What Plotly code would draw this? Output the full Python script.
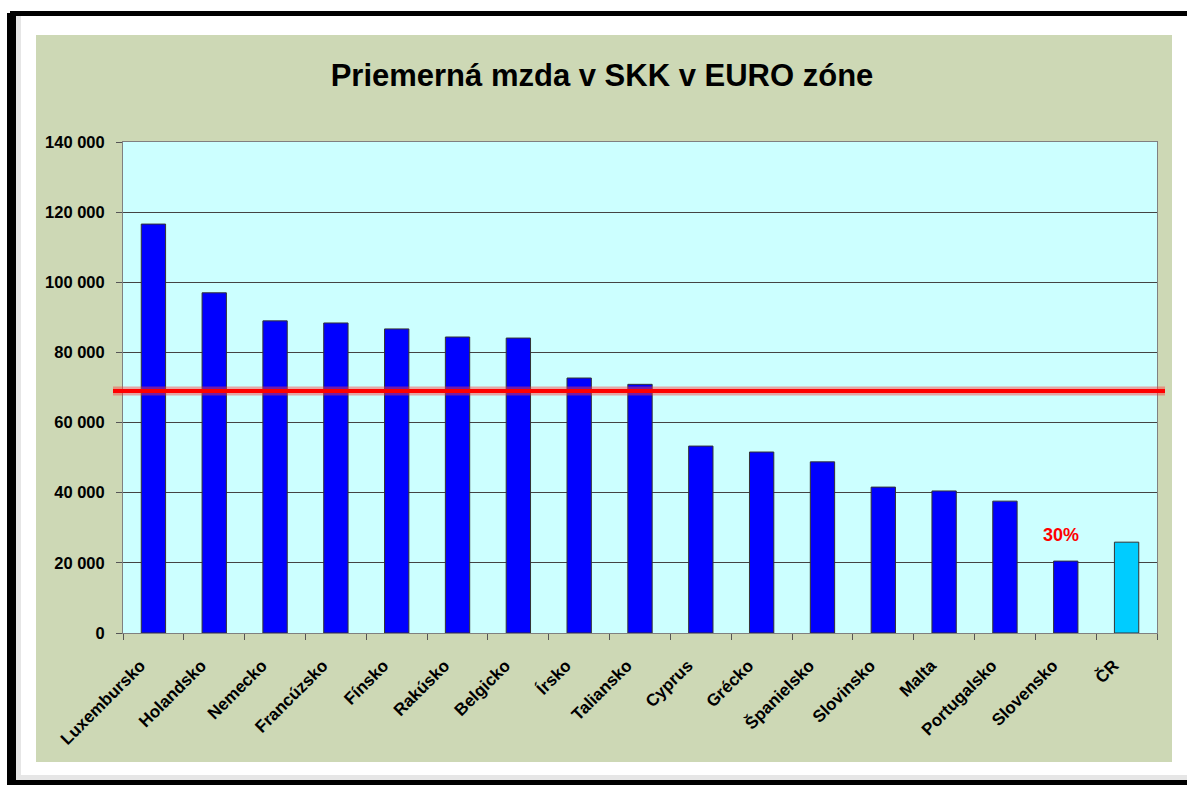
import plotly.graph_objects as go

countries = ["Luxembursko", "Holandsko", "Nemecko", "Francúzsko", "Fínsko", "Rakúsko",
             "Belgicko", "Írsko", "Taliansko", "Cyprus", "Grécko", "Španielsko",
             "Slovinsko", "Malta", "Portugalsko", "Slovensko", "ČR"]
wages = [116600, 97000, 89000, 88400, 86700, 84400, 84100, 72700, 70900,
         53300, 51600, 48800, 41600, 40500, 37600, 20500, 25900]
bar_colors = ["#0000FF"] * 16 + ["#00CCFF"]
average_wage = 69000
y_ticks = [0, 20000, 40000, 60000, 80000, 100000, 120000, 140000]
y_tick_text = ["0", "20 000", "40 000", "60 000", "80 000", "100 000", "120 000", "140 000"]
title_text = "Priemerná mzda v SKK v EURO zóne"
note_country = "Slovensko"
note_text = "30%"

W, H = 1187, 785
ML, MR, MT, MB = 123, 30, 142, 152
PW, PH = W - ML - MR, H - MT - MB


def px(x):
    return (x - ML) / PW


def py(y):
    return (H - MB - y) / PH


fig = go.Figure()
fig.add_trace(go.Bar(
    x=countries, y=wages,
    marker=dict(color=bar_colors, line=dict(color="#333333", width=1)),
    hoverinfo="x+y",
))

shapes = [
    # green panel
    dict(type="rect", xref="paper", yref="paper", x0=px(36), x1=px(1172), y0=py(762), y1=py(35),
         fillcolor="#CDD8B5", line=dict(width=0), layer="below"),
    # plot area background
    dict(type="rect", xref="paper", yref="paper", x0=0, x1=1, y0=0, y1=1,
         fillcolor="#CCFFFF", line=dict(width=0), layer="below"),
    # soft shadow inside the frame
    dict(type="rect", xref="paper", yref="paper", x0=px(16), x1=px(21), y0=py(780), y1=py(16),
         fillcolor="#E6E6E6", line=dict(width=0), layer="below"),
    dict(type="rect", xref="paper", yref="paper", x0=px(16), x1=px(1190), y0=py(780), y1=py(775),
         fillcolor="#E6E6E6", line=dict(width=0), layer="below"),
    # black frame
    dict(type="rect", xref="paper", yref="paper", x0=px(7), x1=px(16), y0=py(790), y1=py(13),
         fillcolor="black", line=dict(width=0), layer="below"),
    dict(type="rect", xref="paper", yref="paper", x0=px(10), x1=px(1190), y0=py(16), y1=py(11),
         fillcolor="black", line=dict(width=0), layer="below"),
    dict(type="rect", xref="paper", yref="paper", x0=px(7), x1=px(1190), y0=py(790), y1=py(780),
         fillcolor="black", line=dict(width=0), layer="below"),
    # average line (glow + core)
    dict(type="line", xref="paper", yref="y", x0=px(113), x1=px(1165), y0=average_wage, y1=average_wage,
         line=dict(color="rgba(255,60,60,0.45)", width=9), layer="above"),
    dict(type="line", xref="paper", yref="y", x0=px(113), x1=px(1165), y0=average_wage, y1=average_wage,
         line=dict(color="#FF0000", width=4), layer="above"),
]

fig.update_layout(
    width=W, height=H,
    margin=dict(l=ML, r=MR, t=MT, b=MB, pad=0),
    paper_bgcolor="white",
    plot_bgcolor="#CCFFFF",
    showlegend=False,
    bargap=0.6,
    shapes=shapes,
    title=dict(text=title_text, x=602 / W, xref="container", xanchor="center",
               y=1 - 75 / H, yref="container", yanchor="middle",
               font=dict(family="Liberation Sans, Arial", size=31, color="black", weight="bold")),
    font=dict(family="Liberation Sans, Arial", color="black"),
    annotations=[dict(x=note_country, y=wages[countries.index(note_country)], xref="x", yref="y",
                      text=note_text, showarrow=False, yanchor="bottom", yshift=14, xshift=-5,
                      font=dict(family="Liberation Sans, Arial", size=18, color="#FF0000", weight="bold"))],
)

fig.update_yaxes(
    range=[0, 140000], tickvals=y_ticks, ticktext=y_tick_text,
    showgrid=True, gridcolor="#444444", gridwidth=1,
    showline=True, linecolor="#808080", linewidth=1, mirror=True,
    ticks="outside", ticklen=6, tickcolor="#555555",
    tickfont=dict(family="Liberation Sans, Arial", size=16.5, color="black", weight="bold"),
    ticklabelstandoff=8, zeroline=False,
)
fig.update_xaxes(
    tickangle=-45, tickson="boundaries",
    showline=True, linecolor="#808080", linewidth=1, mirror=True,
    ticks="outside", ticklen=6, tickcolor="#555555",
    tickfont=dict(family="Liberation Sans, Arial", size=17, color="black", weight="bold"),
    ticklabelstandoff=15, ticklabelshift=-13,
    showgrid=False,
)

fig.write_html("out.html", config={"displayModeBar": False},
               post_script="document.body.style.margin='0px';")
